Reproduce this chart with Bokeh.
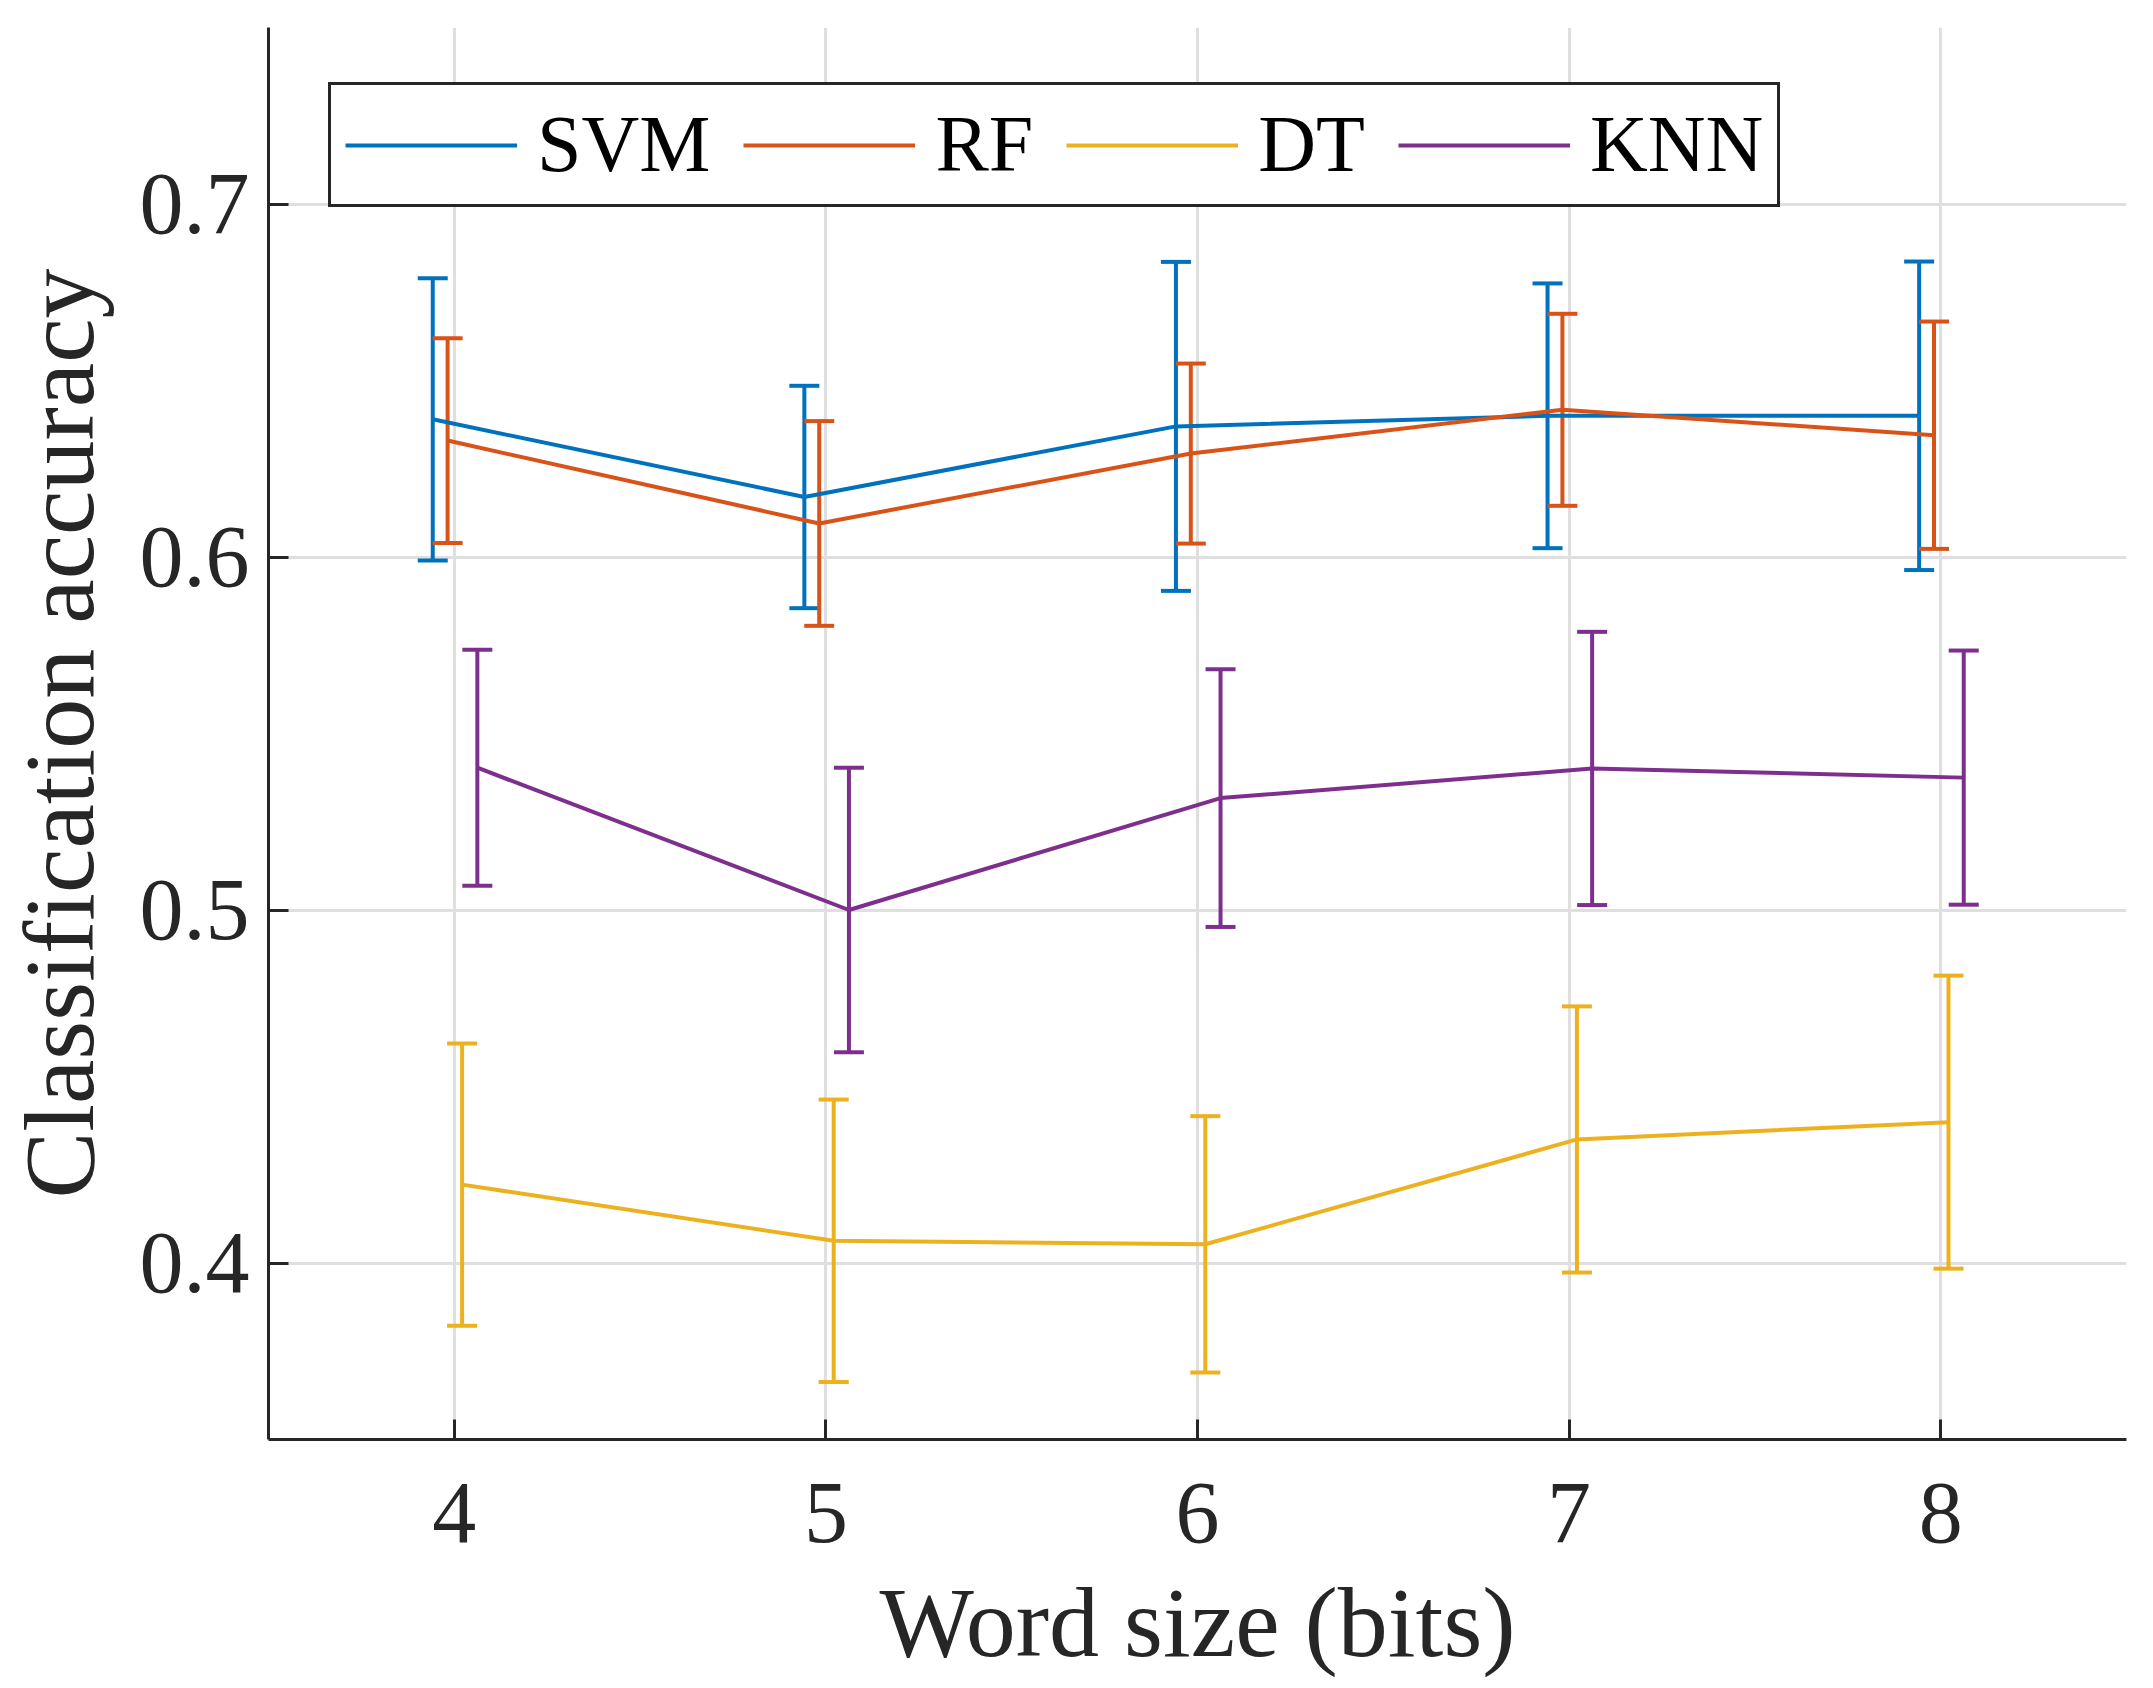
from bokeh.plotting import figure
from bokeh.models import ColumnDataSource, Whisker, TeeHead, Range1d, FixedTicker
from bokeh.embed import file_html
from bokeh.resources import INLINE

# ---- data ----
word_size = [4, 5, 6, 7, 8]
series_names = ["SVM", "RF", "DT", "KNN"]
svm_mean = [0.639, 0.617, 0.637, 0.640, 0.640]
svm_err = [0.040, 0.0315, 0.0466, 0.0375, 0.0437]
rf_mean = [0.633, 0.6095, 0.6293, 0.6417, 0.6345]
rf_err = [0.029, 0.029, 0.0255, 0.0272, 0.0322]
dt_mean = [0.4222, 0.4063, 0.4053, 0.4350, 0.4399]
dt_err = [0.040, 0.040, 0.0363, 0.0377, 0.0415]
knn_mean = [0.5403, 0.500, 0.5317, 0.5401, 0.5375]
knn_err = [0.0334, 0.0403, 0.0365, 0.0387, 0.036]
x_ticks = [4, 5, 6, 7, 8]
y_ticks = [0.4, 0.5, 0.6, 0.7]
y_tick_labels = ["0.4", "0.5", "0.6", "0.7"]

# ---- style ----
colors = ["#0072BD", "#D95319", "#EDB120", "#7E2F8E"]
offsets = [-0.058, -0.018, 0.021, 0.062]  # grouped error-bar shift
FONT = "Liberation Serif"
AX = "#262626"

p = figure(width=2136, height=1688, output_backend="svg", toolbar_location=None,
           x_range=Range1d(3.5, 8.5), y_range=Range1d(0.35, 0.75),
           min_border_left=266, min_border_right=10, min_border_top=27,
           min_border_bottom=249)
p.outline_line_color = None
p.background_fill_color = "white"
p.border_fill_color = "white"

means = [svm_mean, rf_mean, dt_mean, knn_mean]
errs = [svm_err, rf_err, dt_err, knn_err]
for name, m, e, c, off in zip(series_names, means, errs, colors, offsets):
    xs = [x + off for x in word_size]
    src = ColumnDataSource(dict(x=xs, y=m,
                                upper=[a + b for a, b in zip(m, e)],
                                lower=[a - b for a, b in zip(m, e)]))
    w = Whisker(source=src, base="x", upper="upper", lower="lower",
                dimension="height", line_color=c, line_width=4,
                upper_head=TeeHead(size=30, line_color=c, line_width=4),
                lower_head=TeeHead(size=30, line_color=c, line_width=4))
    p.add_layout(w)
    p.line("x", "y", source=src, line_color=c, line_width=4, legend_label=name)

# axes
for ax in (p.xaxis, p.yaxis):
    ax.axis_line_color = AX
    ax.axis_line_width = 3
    ax.major_tick_line_color = AX
    ax.major_tick_line_width = 3
    ax.major_tick_in = 20
    ax.major_tick_out = 0
    ax.minor_tick_line_color = None
    ax.major_label_text_font = FONT
    ax.major_label_text_font_size = "88px"
    ax.major_label_text_color = AX
    ax.axis_label_text_font = FONT
    ax.axis_label_text_font_size = "100px"
    ax.axis_label_text_font_style = "normal"
    ax.axis_label_text_color = AX

p.xaxis.ticker = FixedTicker(ticks=x_ticks)
p.yaxis.ticker = FixedTicker(ticks=y_ticks)
p.yaxis.major_label_overrides = {t: l for t, l in zip(y_ticks, y_tick_labels)}
p.xaxis.axis_label = "Word size (bits)"
p.yaxis.axis_label = "Classification accuracy"
p.xaxis.major_label_standoff = 44
p.yaxis.major_label_standoff = 19
p.xaxis.axis_label_standoff = 22
p.yaxis.axis_label_standoff = 22

# grid
p.grid.grid_line_color = "#dfdfdf"
p.grid.grid_line_width = 3
p.xgrid.ticker = FixedTicker(ticks=x_ticks)
p.ygrid.ticker = FixedTicker(ticks=y_ticks)

# legend
lg = p.legend[0]
lg.orientation = "horizontal"
lg.location = (60, 1232)
lg.padding = 14
lg.spacing = 33
lg.glyph_width = 172
lg.glyph_height = 40
lg.label_standoff = 20
lg.label_text_font = FONT
lg.label_text_font_size = "80px"
lg.label_text_color = "black"
lg.border_line_color = AX
lg.border_line_width = 3
lg.border_line_alpha = 1.0
lg.background_fill_color = "white"
lg.background_fill_alpha = 1.0

open("out.html", "w").write(file_html(p, INLINE))
